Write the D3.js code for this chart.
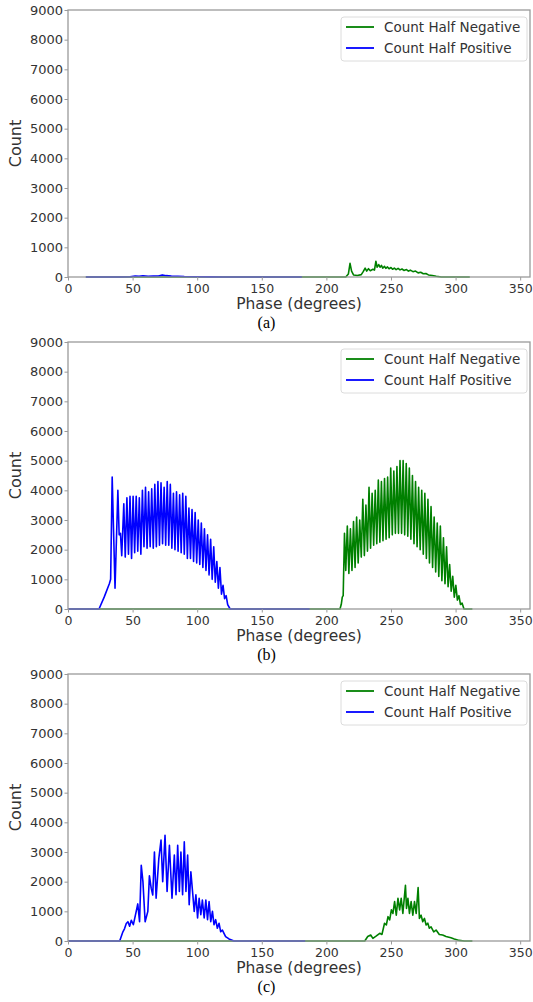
<!DOCTYPE html>
<html>
<head>
<meta charset="utf-8">
<script src="https://cdn.jsdelivr.net/npm/d3@7"></script>
<style>
    body { margin: 0; background: #fff; }
    text { font-family: "DejaVu Sans", sans-serif; fill: #333; }
    .caption { font-family: "Liberation Serif", "Times New Roman", serif; fill: #000; }
</style>
</head>
<body>
<svg id="chart"></svg>
<script>
// Tick labels / names
const xTicks = [0, 50, 100, 150, 200, 250, 300, 350];
const yTicks = [0, 1000, 2000, 3000, 4000, 5000, 6000, 7000, 8000, 9000];
const seriesNames = ["Count Half Negative", "Count Half Positive"];
const captions = ["(a)", "(b)", "(c)"];

// Panel (a): [phase, count]
const negativeA = [[13.8, 0], [215, 0], [217, 100], [218.3, 460], [219.5, 200], [221, 70], [224, 50], [227, 80],
    [228.5, 180], [230, 300], [231.2, 200], [232.6, 280], [234, 210], [236, 260], [237.2, 230], [238.3, 530],
    [239.3, 330], [240.5, 420], [241.5, 330], [242.6, 390], [243.6, 300], [245, 360], [246, 290], [247.3, 340],
    [248.5, 280], [250, 320], [251.2, 260], [252.6, 300], [254, 250], [255.5, 290], [257, 240], [258.5, 270],
    [260, 220], [262, 250], [263.5, 200], [265, 230], [267, 180], [269, 200], [271, 140], [273, 160],
    [275, 110], [277, 120], [279, 70], [282, 50], [285, 25], [289, 0], [311, 0]];
const positiveA = [[13.8, 0], [40, 0], [48, 10], [52, 35], [55, 25], [58, 40], [62, 25], [66, 30], [70, 35],
    [73, 70], [76, 45], [80, 30], [85, 25], [90, 15], [100, 10], [110, 5], [120, 0], [181, 0]];

// Panel (b)
const negativeB = [[0, 0], [210.5, 0], [211.5, 150], [212.3, 400], [213, 450], [214, 2550], [215, 1300],
    [216.2, 2800], [217.4, 1200], [218.6, 2700], [219.8, 1300], [221, 2950], [222.2, 1400], [223.4, 3100],
    [224.6, 1550], [225.8, 3000], [227, 1750], [228.2, 3700], [229.4, 1800], [230.6, 3500], [231.8, 1950],
    [233, 4100], [234.2, 2050], [235.4, 3900], [236.6, 2150], [237.8, 4000], [239, 2200], [240.2, 4350],
    [241.4, 2250], [242.6, 4300], [243.8, 2300], [245, 4400], [246.2, 2350], [247.4, 4450], [248.6, 2400],
    [249.8, 4750], [251, 2500], [252.2, 4650], [253.4, 2550], [254.6, 4800], [255.8, 2550], [257, 5000],
    [258.2, 2550], [259.4, 5000], [260.6, 2500], [261.8, 4900], [263, 2450], [264.2, 4750], [265.4, 2350],
    [266.6, 4500], [267.8, 2200], [269, 4300], [270.2, 2100], [271.4, 4100], [272.6, 2000], [273.8, 4000],
    [275, 1850], [276.2, 3900], [277.4, 1700], [278.6, 3700], [279.8, 1550], [281, 3450], [282.2, 1400],
    [283.4, 3100], [284.6, 1250], [285.8, 2900], [287, 1100], [288.2, 2800], [289.4, 950], [290.6, 2400],
    [291.8, 850], [293, 2100], [294.2, 750], [295.4, 1500], [296.6, 600], [297.8, 1100], [299, 400],
    [300.2, 800], [301.4, 300], [302.6, 450], [303.8, 150], [305, 200], [306.5, 0], [313, 0]];
const positiveB = [[0, 0], [24, 0], [28, 400], [32, 850], [33, 1000], [34.2, 4450], [36.4, 700], [38.6, 4000],
    [39.6, 2500], [40.6, 2550], [41.6, 1800], [43.2, 3550], [44.3, 1750], [45.6, 3750], [46.8, 1850],
    [48, 3800], [49.2, 1700], [50.4, 3800], [51.6, 1900], [52.8, 3800], [54, 1950], [55.2, 3750],
    [56.4, 1850], [57.6, 4000], [58.8, 2100], [60, 4100], [61.2, 2050], [62.4, 3950], [63.6, 2100],
    [64.8, 4050], [66, 2050], [67.2, 4200], [68.4, 2100], [69.6, 4300], [70.8, 2150], [72, 4250],
    [73.2, 2200], [74.4, 4100], [75.6, 2150], [76.8, 4300], [78, 2150], [79.2, 4200], [80.4, 2050],
    [81.6, 3900], [82.8, 2000], [84, 3950], [85.2, 1950], [86.4, 3850], [87.6, 1900], [88.8, 3900],
    [90, 1850], [91.2, 3800], [92.4, 1700], [93.6, 3400], [94.8, 1700], [96, 3350], [97.2, 1600],
    [98.4, 3250], [99.6, 1550], [100.8, 3000], [102, 1500], [103.2, 2900], [104.4, 1400], [105.6, 2700],
    [106.8, 1300], [108, 2500], [109.2, 1150], [110.4, 2350], [111.6, 1000], [112.8, 2100], [114, 900],
    [115.2, 1600], [116.4, 700], [117.6, 1400], [118.8, 500], [120, 800], [121.2, 350], [122.4, 450],
    [123.6, 150], [125.5, 0], [187, 0]];

// Panel (c)
const negativeC = [[0, 0], [229.7, 0], [232, 150], [234.3, 200], [236, 90], [238.7, 170], [241.3, 260],
    [243, 220], [245, 600], [246.4, 540], [247.7, 820], [249, 710], [250.3, 1050], [251.5, 930],
    [252.8, 1330], [254.1, 870], [255.4, 1440], [256.7, 1050], [257.9, 1440], [259.2, 930], [261.2, 1880],
    [262, 1100], [263.1, 1440], [264.3, 930], [265.6, 1330], [266.9, 870], [268.2, 1330], [269.5, 930],
    [271, 1800], [272, 760], [273.3, 870], [274.6, 650], [275.9, 760], [277.2, 540], [278.5, 600],
    [279.7, 430], [281, 480], [283.1, 310], [284.9, 370], [287.4, 220], [290, 200], [292.6, 150],
    [296.4, 110], [299, 70], [302.8, 20], [306.7, 0], [313, 0]];
const positiveC = [[0, 0], [40, 0], [42.5, 310], [43.8, 420], [45.1, 590], [46.4, 650], [47.7, 500],
    [49, 700], [50.6, 550], [52.8, 1000], [54, 1250], [55.4, 650], [56.7, 2550], [58, 2000], [59.7, 650],
    [61.8, 1000], [63, 2200], [64.4, 1780], [65.6, 1550], [66.9, 3000], [68.2, 1440], [70.3, 2780],
    [72, 3400], [73.3, 2000], [75.1, 3560], [76.7, 1670], [78.5, 3230], [80.5, 1440], [82.3, 2900],
    [83.6, 1560], [84.9, 3230], [86.2, 1670], [87.4, 3000], [88.7, 1560], [90, 3340], [91.3, 1670],
    [92.6, 2900], [93.8, 1220], [95.1, 2330], [96.4, 1670], [97.7, 1000], [99, 1560], [100.3, 780],
    [101.5, 1440], [102.8, 890], [104, 1380], [105.4, 780], [106.7, 1380], [108, 720], [109.2, 1330],
    [110.5, 650], [111.8, 1000], [113, 550], [114.3, 720], [115.6, 430], [116.9, 600], [118.2, 310],
    [119.5, 370], [122, 150], [124.6, 70], [128.5, 0], [183.6, 0]];

const colors = { negative: "#008000", positive: "#0000ff" };

function drawPanel(svg, top, negative, positive, caption) {
    // Panel constants
    const margin = { left: 68, right: 530 };
    const height = 267;
    const bottom = top + height;
    const xScale = d3.scaleLinear()
        .domain([0, 357.6])
        .range([margin.left, margin.right]);
    const yScale = d3.scaleLinear()
        .domain([0, 9000])
        .range([bottom, top]);
    const xAxis = d3.axisBottom(xScale)
        .tickValues(xTicks)
        .tickFormat(d3.format("d"))
        .tickSize(3.5)
        .tickSizeOuter(0);
    const yAxis = d3.axisLeft(yScale)
        .tickValues(yTicks)
        .tickFormat(d3.format("d"))
        .tickSize(3.5)
        .tickSizeOuter(0);

    const g = svg.append('g');

    // Lines (negative first, positive drawn on top)
    const line = d3.line()
        .x(d => xScale(d[0]))
        .y(d => yScale(d[1]));
    g.append('path')
        .datum(negative)
        .attr('d', line)
        .attr('fill', 'none')
        .attr('stroke', colors.negative)
        .attr('stroke-width', 1.6)
        .attr('stroke-linejoin', 'round');
    g.append('path')
        .datum(positive)
        .attr('d', line)
        .attr('fill', 'none')
        .attr('stroke', colors.positive)
        .attr('stroke-width', 1.6)
        .attr('stroke-linejoin', 'round');

    // Frame
    g.append('rect')
        .attr('x', margin.left)
        .attr('y', top)
        .attr('width', margin.right - margin.left)
        .attr('height', height)
        .attr('fill', 'none')
        .attr('stroke', '#9a9a9a')
        .attr('stroke-width', 1.3);

    // Axes
    const gx = g.append('g')
        .attr('transform', `translate(0,${bottom})`)
        .call(xAxis);
    gx.select('.domain').remove();
    gx.selectAll('line').attr('stroke', '#9a9a9a');
    gx.selectAll('text')
        .attr('y', 7)
        .style('font-size', '12.5px')
        .style('font-family', '"DejaVu Sans", sans-serif')
        .attr('fill', '#333');
    const gy = g.append('g')
        .attr('transform', `translate(${margin.left},0)`)
        .call(yAxis);
    gy.select('.domain').remove();
    gy.selectAll('line').attr('stroke', '#9a9a9a');
    gy.selectAll('text')
        .attr('x', -5)
        .style('font-size', '13px')
        .style('font-family', '"DejaVu Sans", sans-serif')
        .attr('fill', '#333');

    // Axis labels
    g.append('text')
        .attr('x', (margin.left + margin.right) / 2)
        .attr('y', bottom + 32)
        .attr('text-anchor', 'middle')
        .style('font-size', '15.5px')
        .text("Phase (degrees)");
    g.append('text')
        .attr('transform', `translate(21,${(top + bottom) / 2}) rotate(-90)`)
        .attr('text-anchor', 'middle')
        .style('font-size', '16px')
        .text("Count");

    // Caption
    g.append('text')
        .attr('class', 'caption')
        .attr('x', 266.5)
        .attr('y', bottom + 51)
        .attr('text-anchor', 'middle')
        .style('font-size', '16px')
        .text(caption);

    // Legend
    const legend = g.append('g')
        .attr('transform', `translate(341,${top + 7})`);
    legend.append('rect')
        .attr('width', 186)
        .attr('height', 44)
        .attr('rx', 3)
        .attr('fill', '#fff')
        .attr('stroke', '#dcdcdc');
    const entries = [colors.negative, colors.positive];
    entries.forEach((c, i) => {
        legend.append('line')
            .attr('x1', 5).attr('x2', 33)
            .attr('y1', 10 + i * 21).attr('y2', 10 + i * 21)
            .attr('stroke', c)
            .attr('stroke-width', 1.8);
        legend.append('text')
            .attr('x', 43)
            .attr('y', 10 + i * 21)
            .attr('dy', '0.35em')
            .style('font-size', '13.5px')
            .text(seriesNames[i]);
    });
}

const svg = d3.select("#chart")
    .attr('width', 533)
    .attr('height', 1002);
svg.append('rect').attr('width', 533).attr('height', 1002).attr('fill', '#fff');

drawPanel(svg, 10, negativeA, positiveA, captions[0]);
drawPanel(svg, 342, negativeB, positiveB, captions[1]);
drawPanel(svg, 674, negativeC, positiveC, captions[2]);
</script>
</body>
</html>
